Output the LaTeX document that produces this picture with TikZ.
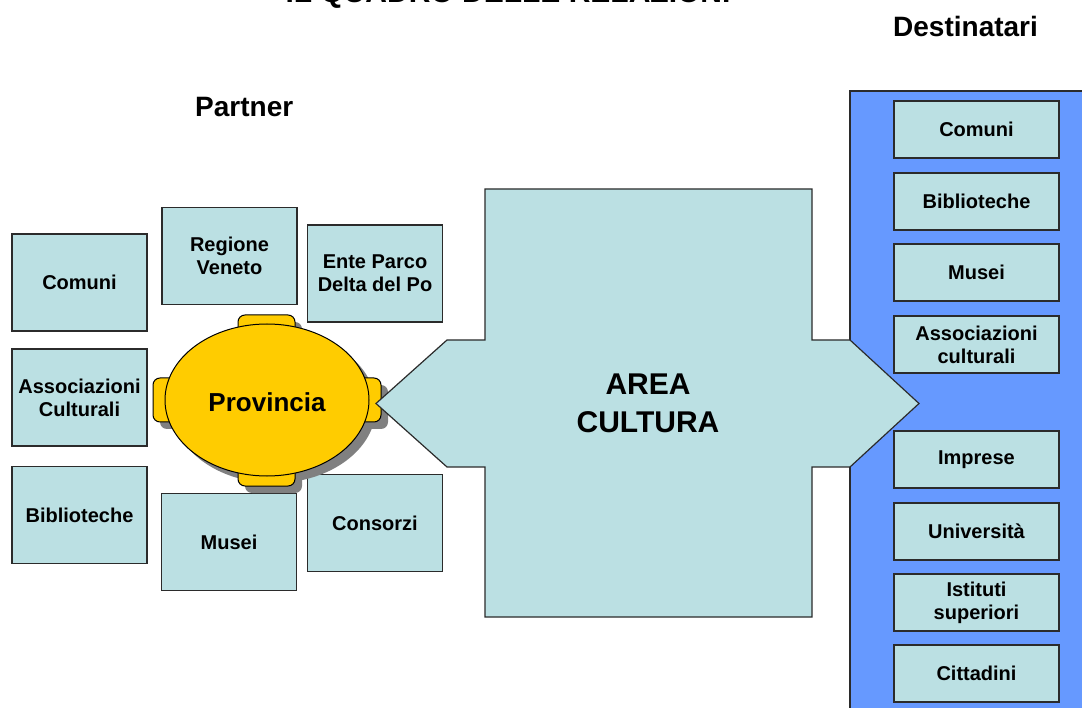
\documentclass[tikz,border=0pt]{standalone}
\usepackage{fontspec}
\setmainfont{Liberation Sans}
\usetikzlibrary{shapes.geometric}
\definecolor{boxfill}{HTML}{BBE0E3}
\definecolor{panelblue}{HTML}{6699FF}
\definecolor{prov}{HTML}{FFCC00}
\definecolor{edge}{HTML}{2B2B2B}
\definecolor{shade}{HTML}{808080}
\tikzset{
  lbox/.style={draw=edge, line width=1.2pt, fill=boxfill, minimum width=135pt, minimum height=97pt,
    align=center, font=\fontsize{20}{23}\selectfont\bfseries, inner sep=0pt},
  rbox/.style={lbox, minimum width=165pt, minimum height=57pt},
  head/.style={font=\fontsize{28}{32}\selectfont\bfseries, anchor=base west, inner sep=0pt},
  tab/.style={rounded corners=7pt, fill=prov, draw=black, line width=1pt},
  shadetab/.style={rounded corners=7pt, fill=shade},
  bigtxt/.style={font=\fontsize{30}{34}\selectfont\bfseries, anchor=base, inner sep=0pt},
}
\begin{document}
\begin{tikzpicture}[x=1pt,y=-1pt]
\useasboundingbox (0,0) rectangle (1082,708);
\clip (0,0) rectangle (1082,708);
\fill[white] (0,0) rectangle (1082,708);

% title (cut off at top)
\node[bigtxt] (title) at (508,3) {IL QUADRO DELLE RELAZIONI};
\node[head] (partner) at (195,117) {Partner};
\node[head] (dest) at (893,37) {Destinatari};

% blue panel
\fill[panelblue] (850,91) rectangle (1090,715);
\draw[edge, line width=1.2pt] (850,715) -- (850,91) -- (1090,91);

% left partner boxes
\node[lbox] (comuni) at (79.5,282.5) {Comuni};
\node[lbox] (regione) at (229.5,256) {Regione\\Veneto};
\node[lbox] (ente) at (375,273.5) {Ente Parco\\Delta del Po};
\node[lbox] (assoc) at (79.5,397.5) {Associazioni\\Culturali};
\node[lbox] (bibl) at (79.5,515) {Biblioteche};
\node[lbox] (musei) at (229,542) {Musei};
\node[lbox] (consorzi) at (375,523) {Consorzi};

% Provincia shadow
\begin{scope}[shift={(7,7)}]
  \fill[shadetab] (238,315) rectangle (295,340);
  \fill[shadetab] (238,462) rectangle (295,486);
  \fill[shadetab] (153,378) rectangle (178,422);
  \fill[shadetab] (356,378) rectangle (381,422);
  \node[ellipse, fill=shade, minimum width=204pt, minimum height=152pt, inner sep=0pt] (provsh) at (267,400) {};
\end{scope}
% Provincia tabs
\draw[tab] (238,315) rectangle (295,340);
\draw[tab] (238,462) rectangle (295,486);
\draw[tab] (153,378) rectangle (178,422);
\draw[tab] (356,378) rectangle (381,422);
\node[ellipse, fill=prov, draw=black, line width=1pt, minimum width=204pt, minimum height=152pt, inner sep=0pt] (prov) at (267,400) {};
\node[font=\fontsize{26}{30}\selectfont\bfseries, anchor=base, inner sep=0pt] (provtxt) at (267,412) {Provincia};

% AREA CULTURA
\draw[edge, line width=1.2pt, fill=boxfill, line join=miter]
  (485,189) -- (812,189) -- (812,340) -- (850,340) -- (919,403.5) -- (850,467) -- (812,467)
  -- (812,617) -- (485,617) -- (485,467) -- (447,467) -- (376,403.5) -- (447,340) -- (485,340) -- cycle;
\node[bigtxt] (areaA) at (648,395) {AREA};
\node[bigtxt] (areaC) at (648,433) {CULTURA};

% right boxes
\node[rbox] (rcomuni) at (976.5,129.5) {Comuni};
\node[rbox] (rbibl) at (976.5,201.5) {Biblioteche};
\node[rbox] (rmusei) at (976.5,272.5) {Musei};
\node[rbox] (rassoc) at (976.5,344.5) {Associazioni\\culturali};
\node[rbox] (rimprese) at (976.5,459.5) {Imprese};
\node[rbox] (runiv) at (976.5,531.5) {Università};
\node[rbox] (ristituti) at (976.5,602.5) {Istituti\\superiori};
\node[rbox] (rcitt) at (976.5,673.5) {Cittadini};
\end{tikzpicture}
\end{document}
